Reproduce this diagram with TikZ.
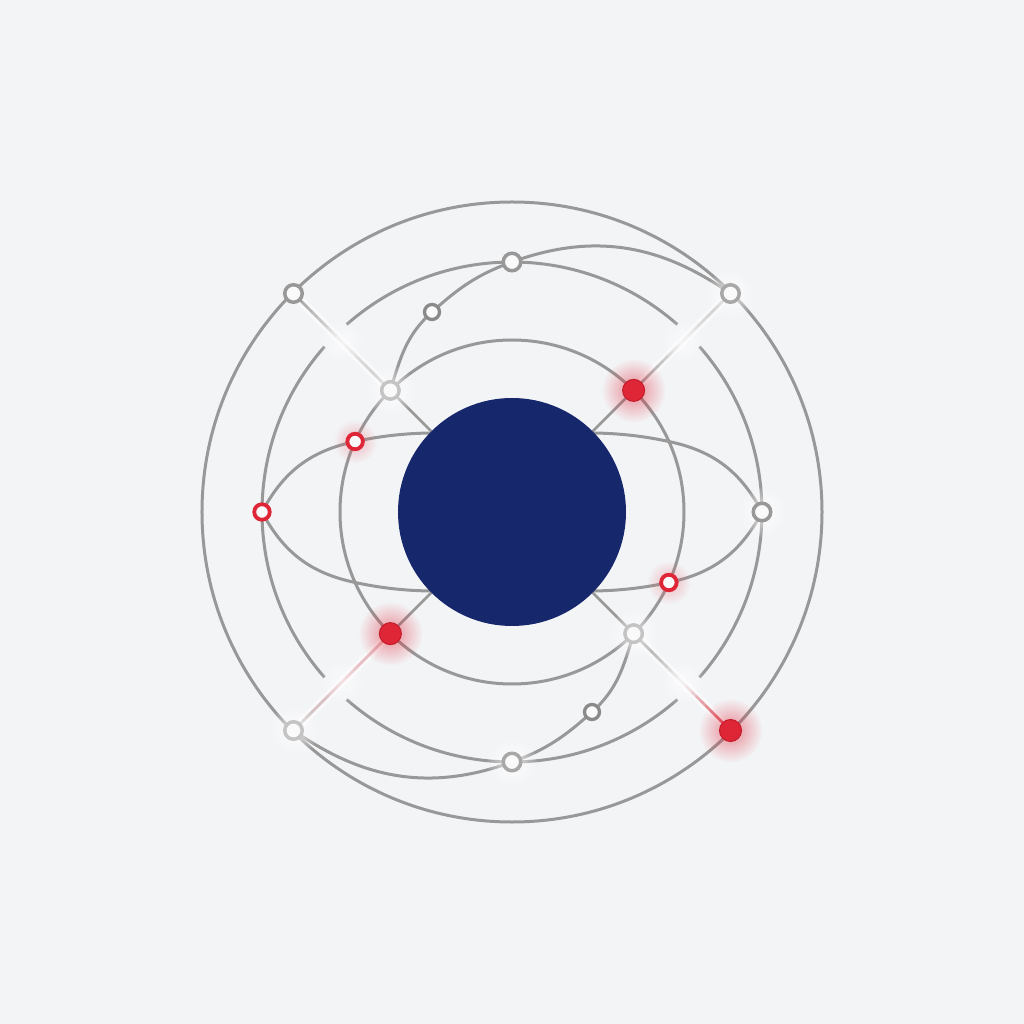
\documentclass[tikz,border=0pt]{standalone}
\usetikzlibrary{calc,fadings}
\definecolor{bg}{RGB}{243,244,246}
\definecolor{navy}{RGB}{23,39,107}
\definecolor{linegray}{RGB}{152,152,152}
\definecolor{midgray}{RGB}{168,168,168}
\definecolor{palegray}{RGB}{196,196,196}
\definecolor{glowc}{RGB}{232,232,232}
\definecolor{darkring}{RGB}{138,138,138}
\definecolor{accent}{RGB}{222,38,55}
\definecolor{accentdark}{RGB}{196,28,44}
\tikzfading[name=glowfade, inner color=transparent!20, outer color=transparent!100]
\newcommand\gradseg[4]{%
  \foreach \i in {0,...,9}{%
    \pgfmathsetmacro\pp{100-(\i+0.5)*10}%
    \pgfmathsetmacro\ta{\i/10}%
    \pgfmathsetmacro\tb{(\i+1)/10}%
    \draw[line width=2.8pt, line cap=round, draw=#3!\pp!#4] ($(#1)!\ta!(#2)$) -- ($(#1)!\tb!(#2)$);
  }}
\begin{document}
\begin{tikzpicture}[x=1pt,y=1pt,
  orbit/.style={draw=linegray, line width=3pt},
  spoke/.style={draw=linegray, line width=2.8pt},
  halo/.style={draw=white, line width=9pt, opacity=0.5, line cap=round},
  ringnode/.style={circle, draw=linegray, fill=white!55!bg, line width=3.5pt, minimum size=17.5pt, inner sep=0pt},
  palering/.style={ringnode, draw=palegray},
  midring/.style={ringnode, draw=midgray},
  smallring/.style={circle, draw=darkring, fill=white!55!bg, line width=3.3pt, minimum size=15pt, inner sep=0pt},
  redring/.style={circle, draw=accent, fill=white!55!bg, line width=3.8pt, minimum size=15.5pt, inner sep=0pt},
  reddot/.style={circle, fill=accent, draw=accentdark, line width=1pt, minimum size=22pt, inner sep=0pt},
  coredisk/.style={circle, fill=navy, minimum size=228pt, inner sep=0pt}
]
\fill[bg] (-512,-512) rectangle (512,512);
\useasboundingbox (-512,-512) rectangle (512,512);

% coordinates
\coordinate (O) at (0,0);
\coordinate (oNW) at (135:309);
\coordinate (oNE) at (45:309);
\coordinate (oSW) at (225:309);
\coordinate (oSE) at (315:309);
\coordinate (iNW) at (135:172);
\coordinate (iNE) at (45:172);
\coordinate (iSW) at (225:172);
\coordinate (iSE) at (315:172);
\coordinate (top) at (0,250);
\coordinate (bot) at (0,-250);
\coordinate (lft) at (-250,0);
\coordinate (rgt) at (250,0);
\coordinate (sN) at (-80,200);
\coordinate (sS) at (80,-200);
\coordinate (rA) at (155.8:172);
\coordinate (rB) at (335.8:172);
\coordinate (hu) at (24.2:172);
\coordinate (hl) at (204.2:172);
\coordinate (htop) at (0,78);
\coordinate (hbot) at (0,-78);
\coordinate (mNW) at ($(oNW)!0.5!(iNW)$);
\coordinate (mNE) at ($(oNE)!0.5!(iNE)$);
\coordinate (mSW) at ($(oSW)!0.5!(iSW)$);
\coordinate (mSE) at ($(oSE)!0.5!(iSE)$);

% orbits
\draw[orbit] (O) circle (310);
\draw[orbit] (O) circle (172);
\foreach \a in {45,135,225,315}
  \draw[orbit] (\a+3.6:250) arc[start angle=\a+3.6, end angle=\a+86.4, radius=250];

% tilted orbits
\draw[orbit] (iNW) to[out=73,in=222] (sN) to[out=42,in=200] (top) to[out=20,in=145] (oNE);
\draw[orbit] (iSE) to[out=253,in=42] (sS) to[out=222,in=20] (bot) to[out=200,in=325] (oSW);

% horizontal lens
\draw[orbit] (lft) to[out=62,in=192] (rA) to[out=12,in=180] (htop);
\draw[orbit] (rgt) to[out=118,in=348] (hu) to[out=168,in=0] (htop);
\draw[orbit] (lft) to[out=298,in=168] (hl) to[out=348,in=180] (hbot);
\draw[orbit] (rgt) to[out=242,in=12] (rB) to[out=192,in=0] (hbot);

% spokes, inner parts
\draw[spoke] (iNW) -- (O);
\draw[spoke] (iNE) -- (O);
\draw[spoke] (iSW) -- (O);
\draw[spoke] (iSE) -- (O);

% spokes, outer parts
\draw[halo] (oNW) -- (iNW);
\draw[halo] (oNE) -- (iNE);
\draw[halo] (oSW) -- (iSW);
\draw[halo] (oSE) -- (iSE);
\gradseg{oNW}{mNW}{linegray}{glowc}
\gradseg{mNW}{iNW}{glowc}{palegray}
\gradseg{oNE}{mNE}{palegray}{glowc}
\gradseg{mNE}{iNE}{glowc}{linegray}
\gradseg{iSW}{mSW}{accent}{accent!22!glowc}
\gradseg{mSW}{oSW}{accent!22!glowc}{palegray}
\gradseg{iSE}{mSE}{linegray}{glowc}
\gradseg{mSE}{oSE}{glowc}{accent!85!glowc}

% core
\node[coredisk] (core) at (O) {};

% glows
\foreach \p in {iNE,iSW,oSE}
  \fill[accent, path fading=glowfade, opacity=0.65] (\p) circle (32);
\foreach \p in {rA,rB}
  \fill[accent!80, path fading=glowfade, opacity=0.45] (\p) circle (22);
\foreach \p in {iNW,iSE,oSW,bot,oNE,rgt}
  \fill[white, path fading=glowfade] (\p) circle (26);
\foreach \p in {mNW,mNE,mSE,mSW}
  \fill[white, path fading=glowfade, opacity=0.7] (\p) circle (24);

% nodes
\node[ringnode] (nONW) at (oNW) {};
\node[midring] (nONE) at (oNE) {};
\node[palering] (nOSW) at (oSW) {};
\node[reddot] (nOSE) at (oSE) {};
\node[palering] (nINW) at (iNW) {};
\node[reddot] (nINE) at (iNE) {};
\node[reddot] (nISW) at (iSW) {};
\node[palering] (nISE) at (iSE) {};
\node[ringnode] (nTop) at (top) {};
\node[midring] (nBot) at (bot) {};
\node[redring] (nLft) at (lft) {};
\node[ringnode] (nRgt) at (rgt) {};
\node[smallring] (nSN) at (sN) {};
\node[smallring] (nSS) at (sS) {};
\node[redring] (nRA) at (rA) {};
\node[redring] (nRB) at (rB) {};
\end{tikzpicture}
\end{document}
